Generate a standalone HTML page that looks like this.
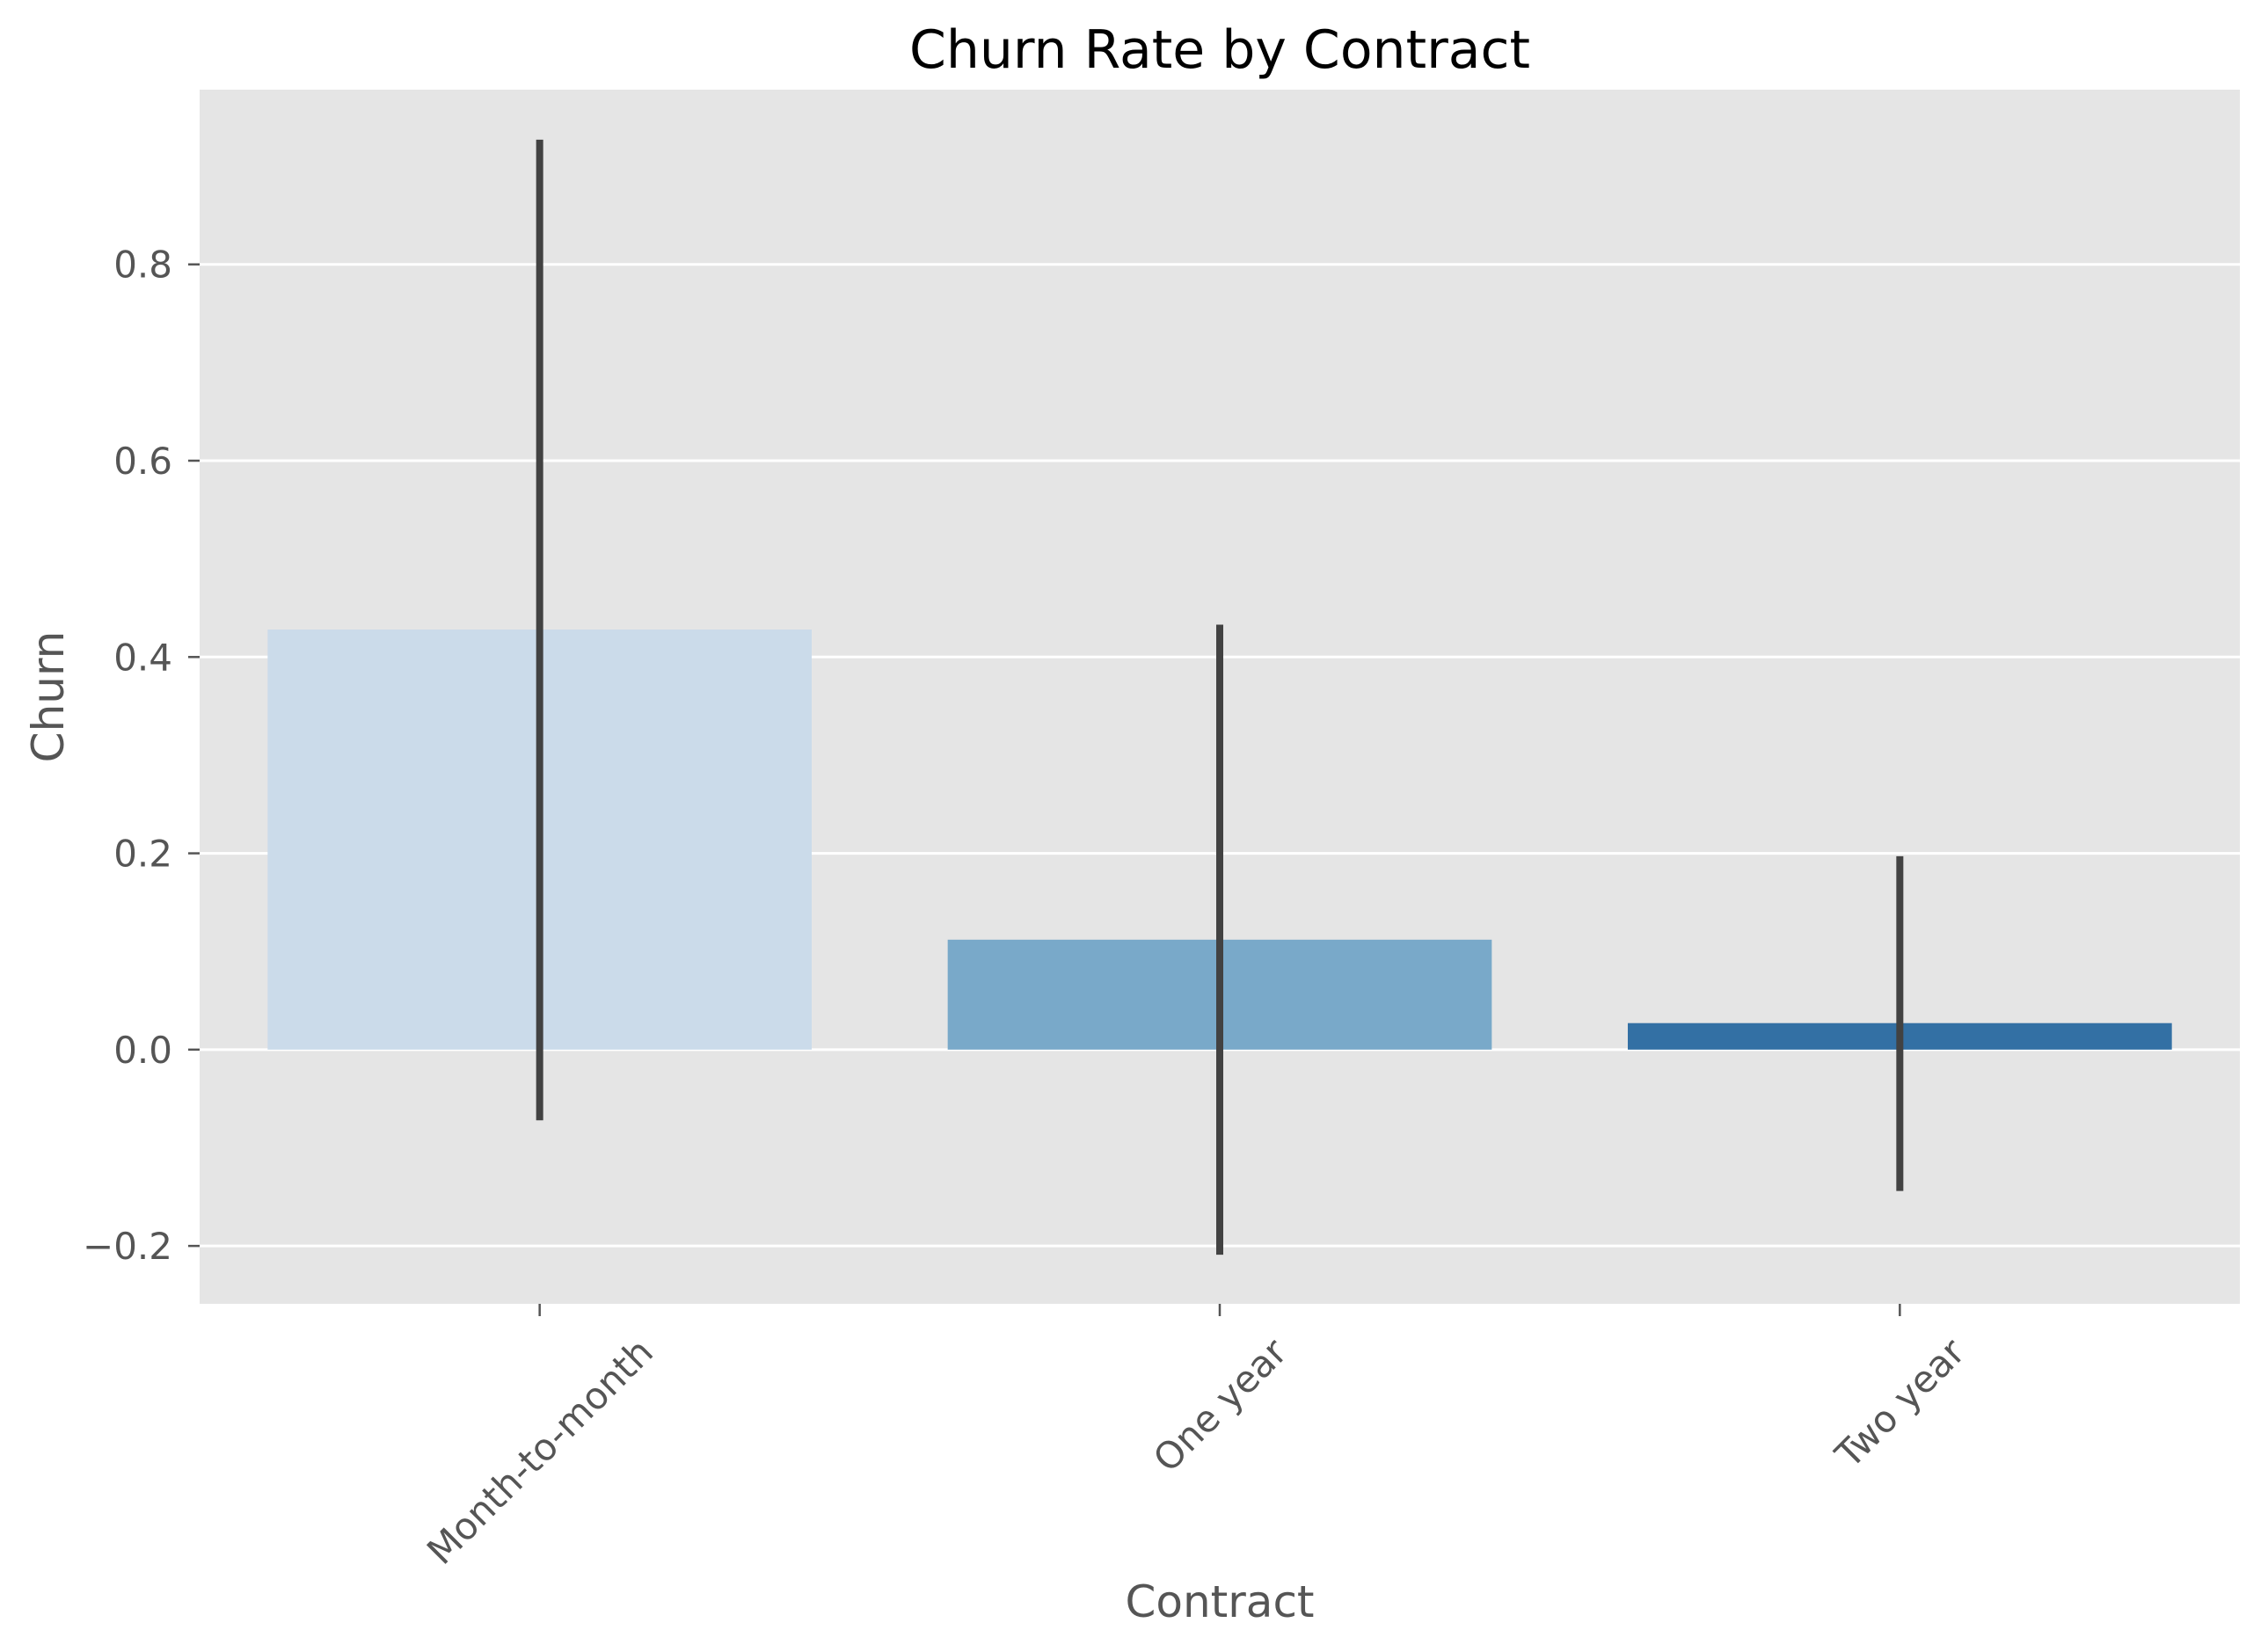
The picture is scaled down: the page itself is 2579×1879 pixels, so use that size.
<!DOCTYPE html>
<html><head><meta charset="utf-8"><style>
html,body{margin:0;padding:0;background:#fff;}
svg{display:block;font-family:"DejaVu Sans","Liberation Sans",sans-serif;}
</style></head><body>
<svg id="chart" width="2579" height="1879" viewBox="0 0 2579 1879" xmlns="http://www.w3.org/2000/svg"></svg>
<script>
const categories = ["Month-to-month", "One year", "Two year"];
const churnValues = [0.428, 0.112, 0.027];
const errLow = [-0.072, -0.209, -0.144];
const errHigh = [0.927, 0.433, 0.197];
const yTicks = [-0.2, 0.0, 0.2, 0.4, 0.6, 0.8];
const yTickLabels = ["\u22120.2", "0.0", "0.2", "0.4", "0.6", "0.8"];
const barColors = ["#cbdbea", "#79a9c9", "#3370a4"];

const svg = document.getElementById('chart');
const NS = 'http://www.w3.org/2000/svg';
const L = 227, R = 2547, T = 102, B = 1483;
const yMin = -0.259, yMax = 0.978;
function y(v){ return B - (v - yMin) / (yMax - yMin) * (B - T); }
const step = (R - L) / categories.length;
function x(i){ return L + step * (i + 0.5); }
const barW = step * 0.8;

function mk(tag, attrs, parent){
  const e = document.createElementNS(NS, tag);
  for (const k in attrs) e.setAttribute(k, attrs[k]);
  (parent || svg).appendChild(e);
  return e;
}

const bg = mk('rect', {x:L, y:T, width:R-L, height:B-T, fill:'#e5e5e5'});



yTicks.forEach((v, i) => {
  const g = mk('line', {x1:L, x2:R, y1:y(v), y2:y(v), stroke:'#fff', 'stroke-width':3});
  
  
  const t = mk('line', {x1:L-13, x2:L, y1:y(v), y2:y(v), stroke:'#555', 'stroke-width':2.5});
  
  
  const lb = mk('text', {x:196, y:y(v)+15, 'text-anchor':'end', 'font-size':42, fill:'#555'});
  lb.textContent = yTickLabels[i];
  
  
});

categories.forEach((c, i) => {
  const bar = mk('rect', {x:x(i)-barW/2, y:y(Math.max(churnValues[i],0)), width:barW, height:Math.abs(y(churnValues[i])-y(0)), fill:barColors[i]});
  
  
  const eb = mk('line', {x1:x(i), x2:x(i), y1:y(errHigh[i]), y2:y(errLow[i]), stroke:'#424242', 'stroke-width':8});
  
  
  const tk = mk('line', {x1:x(i), x2:x(i), y1:B, y2:B+14, stroke:'#555', 'stroke-width':2.5});
  
  
  const lb = mk('text', {x:0, y:0, 'text-anchor':'middle', 'font-size':42, fill:'#555'});
  lb.textContent = c;
  
  
  const w = lb.getComputedTextLength();
  const side = (w + 42) / Math.SQRT2;
  const cy = B + 32 + side / 2;
  lb.setAttribute('transform', 'translate(' + x(i) + ',' + cy + ') rotate(-45) translate(0,15)');
});

const title = mk('text', {x:(L+R)/2, y:77, 'text-anchor':'middle', 'font-size':60, fill:'#000'});
title.textContent = 'Churn Rate by Contract';



const xl = mk('text', {x:(L+R)/2, y:1839, 'text-anchor':'middle', 'font-size':50, fill:'#555'});
xl.textContent = 'Contract';



const yl = mk('text', {x:0, y:0, 'text-anchor':'middle', 'font-size':50, fill:'#555', transform:'translate(72,' + ((T+B)/2) + ') rotate(-90)'});
yl.textContent = 'Churn';


</script>
</body></html>
